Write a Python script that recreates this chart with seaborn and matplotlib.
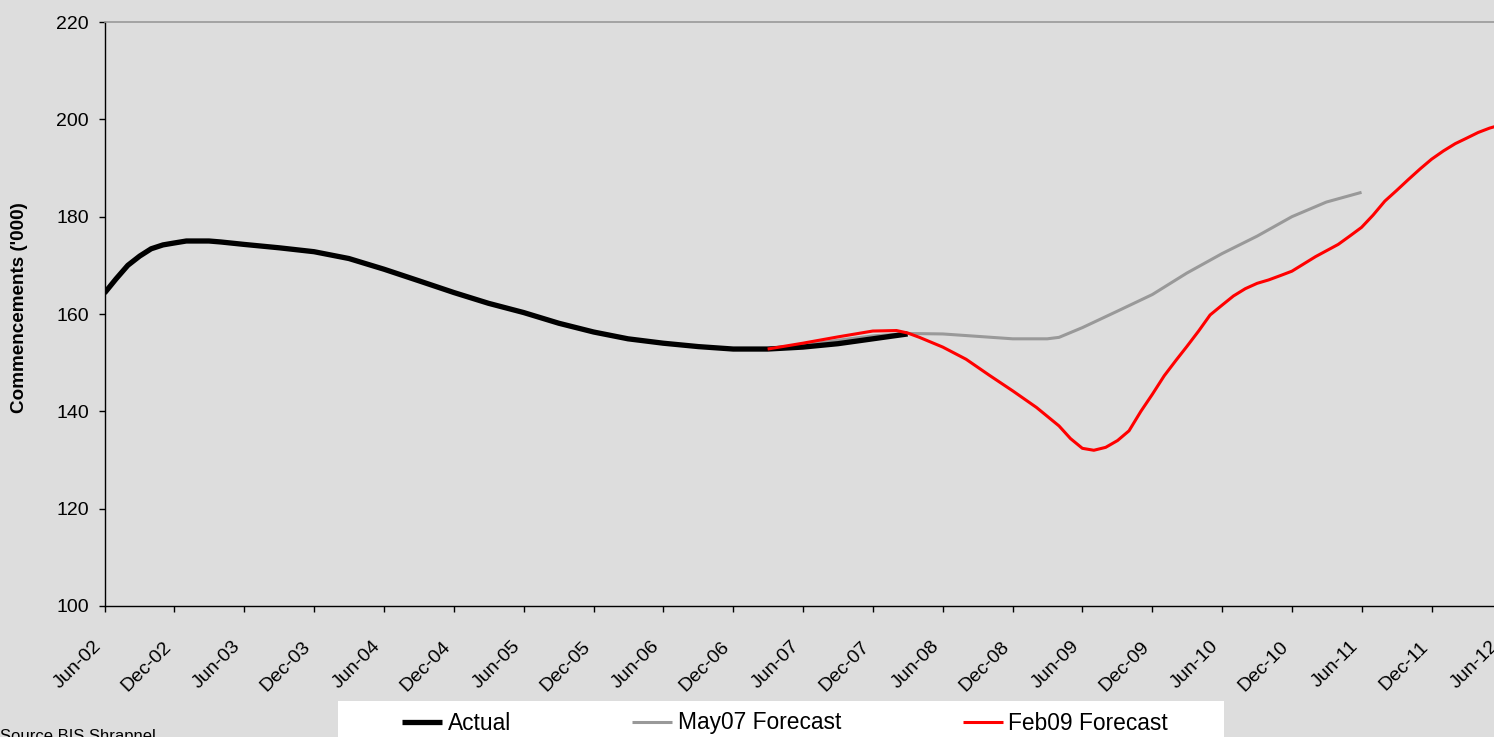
import matplotlib
matplotlib.use("Agg")
import matplotlib.pyplot as plt
import matplotlib.dates as mdates
from matplotlib.patches import Rectangle
from matplotlib.transforms import ScaledTranslation
import pandas as pd
import seaborn as sns

# Dwelling commencements ('000), monthly observations counted from June 2002
actual_months = [0, 1, 2, 3, 4, 5, 6, 7, 9, 10, 12, 15, 18, 21, 24, 27, 30, 33, 36,
                 39, 42, 45, 48, 51, 54, 57, 60, 63, 66, 69]
actual_values = [164.3, 167.2, 170.0, 171.9, 173.4, 174.2, 174.6, 175.0, 175.0, 174.8,
                 174.3, 173.6, 172.8, 171.4, 169.2, 166.8, 164.4, 162.2, 160.3,
                 158.1, 156.3, 154.9, 154.0, 153.3, 152.8, 152.8, 153.2, 153.9,
                 154.9, 155.9]

may07_months = [57, 60, 63, 66, 69, 72, 75, 78, 81, 82, 84, 87, 90, 93, 96, 99,
                102, 105, 108]
may07_values = [152.8, 153.6, 154.6, 155.5, 156.0, 155.9, 155.4, 154.9, 154.9, 155.2,
                157.2, 160.6, 164.0, 168.4, 172.4, 176.0, 180.0, 183.0, 185.0]

feb09_months = [57, 60, 63, 66, 68, 69, 70, 72, 74, 76, 78, 80, 82, 83, 84, 85, 86,
                87, 88, 89, 90, 91, 92, 93, 94, 95, 96, 97, 98, 99, 100, 101, 102,
                103, 104, 106, 107, 108, 109, 110, 111, 112, 113, 114, 115, 116,
                117, 118, 119, 120]
feb09_values = [152.8, 154.0, 155.3, 156.5, 156.6, 156.1, 155.2, 153.2, 150.7, 147.4,
                144.2, 140.8, 137.0, 134.4, 132.4, 132.0, 132.6, 134.0, 136.0, 140.0,
                143.5, 147.3, 150.5, 153.3, 156.5, 159.8, 161.8, 163.7, 165.2, 166.3,
                167.0, 167.9, 168.8, 170.3, 171.8, 174.3, 176.0, 177.8, 180.3, 183.2,
                185.4, 187.6, 189.8, 191.8, 193.5, 195.0, 196.1, 197.3, 198.2, 198.9]

series_labels = ["Actual", "May07 Forecast", "Feb09 Forecast"]
series_colors = ["#000000", "#999999", "#FF0000"]
series_widths = [3.8, 2.2, 2.2]

y_ticks = [100, 120, 140, 160, 180, 200, 220]
y_title = "Commencements ('000)"
source_note = "Source BIS Shrapnel"

start = pd.Timestamp("2002-06-01")
end = pd.Timestamp("2012-06-01")


def frame(months, values, label):
    return pd.DataFrame({
        "date": [start + pd.DateOffset(months=m) for m in months],
        "value": values,
        "series": label,
    })


data = pd.concat([
    frame(actual_months, actual_values, series_labels[0]),
    frame(may07_months, may07_values, series_labels[1]),
    frame(feb09_months, feb09_values, series_labels[2]),
], ignore_index=True)

bg = "#DDDDDD"
sns.set_style("white", rc={"axes.facecolor": bg, "figure.facecolor": bg,
                           "text.color": "black", "xtick.color": "black",
                           "ytick.color": "black", "axes.labelcolor": "black"})
plt.rcParams["font.family"] = ["Liberation Sans", "DejaVu Sans"]

W, H = 1494, 737
fig = plt.figure(figsize=(W / 100, H / 100), dpi=100)
fig.patch.set_facecolor(bg)
ax = fig.add_axes([104.5 / W, 131 / H, 1397 / W, 584 / H])
ax.set_facecolor(bg)

# grey forecast underneath, then actual, then the latest forecast on top
for i in [1, 0, 2]:
    sub = data[data["series"] == series_labels[i]]
    sns.lineplot(data=sub, x="date", y="value", ax=ax, color=series_colors[i],
                 linewidth=series_widths[i], label=series_labels[i],
                 solid_joinstyle="round", solid_capstyle="butt")

ax.set_xlim(start, end)
ax.set_ylim(y_ticks[0], y_ticks[-1])
ax.set_yticks(y_ticks)
ax.xaxis.set_major_locator(mdates.MonthLocator(bymonth=[6, 12]))
ax.xaxis.set_major_formatter(mdates.DateFormatter("%b-%y"))
ax.set_xlabel("")
ax.set_ylabel("")

for side in ("left", "bottom"):
    ax.spines[side].set_color("#000000")
    ax.spines[side].set_linewidth(1.0)
ax.spines["top"].set_color("#999999")
ax.spines["top"].set_linewidth(1.2)
ax.spines["right"].set_visible(False)

ax.tick_params(axis="y", direction="out", length=4.3, width=1.0, color="#000000",
               labelcolor="#000000", labelsize=14, pad=7, left=True)
ax.tick_params(axis="x", direction="out", length=4.3, width=1.0, color="#000000",
               labelcolor="#000000", labelsize=14, pad=23, bottom=True)
shift = ScaledTranslation(-6 / 100, 0, fig.dpi_scale_trans)
for lab in ax.get_xticklabels():
    lab.set_rotation(45)
    lab.set_ha("right")
    lab.set_va("center")
    lab.set_rotation_mode("anchor")
    lab.set_transform(lab.get_transform() + shift)

fig.text(19.5 / W, 1 - 308 / H, y_title, rotation=90, ha="center", va="center",
         fontsize=13.6, fontweight="bold", color="black")
fig.text(0.0, -4 / H, source_note, ha="left", va="baseline", fontsize=12,
         color="black")

# legend strip along the bottom
fig.patches.append(Rectangle((338 / W, -0.02), 886 / W, (737 - 701) / H + 0.02,
                             transform=fig.transFigure, facecolor="white",
                             edgecolor="none", zorder=1))
handles, labels = ax.get_legend_handles_labels()
ax.get_legend().remove()
lookup = dict(zip(labels, handles))
fig.legend([lookup[l] for l in series_labels], series_labels, loc="center",
           bbox_to_anchor=(402 / W, (737 - 723) / H, 766 / W, 0), mode="expand",
           ncol=3, frameon=False, fontsize=16.4, handlelength=1.75,
           handletextpad=0.25, borderpad=0, borderaxespad=0, labelcolor="black")

fig.savefig("out.png", dpi=100, facecolor=bg)
